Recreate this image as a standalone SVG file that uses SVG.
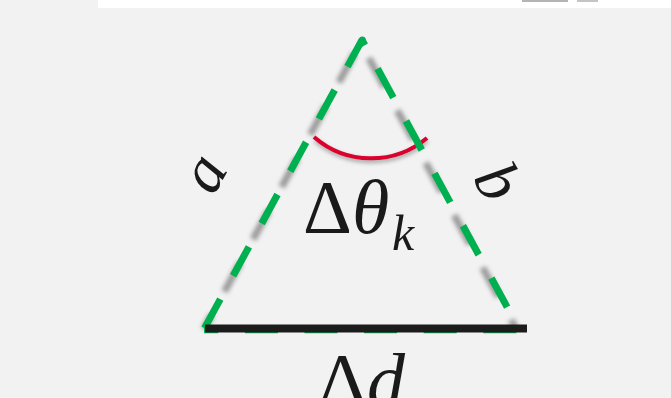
<svg xmlns="http://www.w3.org/2000/svg" width="671" height="398" viewBox="0 0 671 398">
<defs>
<filter id="soft" x="-30%" y="-30%" width="160%" height="160%"><feGaussianBlur stdDeviation="2.2"/></filter>
</defs>
<style>
.grn{fill:none;stroke:#00b050;stroke-width:7;stroke-dasharray:33 26.6}
.shd{fill:none;stroke:#8c8c8c;stroke-width:7;stroke-dasharray:33 26.6;filter:url(#soft);opacity:0.85}
.lbl{font-family:"Liberation Serif","DejaVu Serif",serif;fill:#1a1a1a}
.it{font-style:italic}
</style>
<rect width="671" height="398" fill="#f2f2f2"/>
<rect x="98" y="0" width="573" height="8" fill="#ffffff"/>
<rect x="522" y="0" width="46" height="2" fill="#b4b4b4"/>
<rect x="577" y="0" width="21" height="2" fill="#c4c4c4"/>
<g id="connectors">
  <g id="shadows">
    <path class="shd" d="M362,40 L204,329" style="stroke-dashoffset:-15.3"/>
    <path class="shd" d="M359,40 L516,329" style="stroke-dashoffset:39"/>
    <path class="shd" d="M203,334.5 H520" style="stroke-dashoffset:18.7"/>
    <path d="M315,140 A87,87 0 0 0 427,141" fill="none" stroke="#8c8c8c" stroke-width="4" filter="url(#soft)" opacity="0.8"/>
  </g>
  <path id="angle-arc" d="M314,137 A87,87 0 0 0 427,138" fill="none" stroke="#dc002c" stroke-width="4"/>
  <path id="side-a" class="grn" d="M362,40 L204,329" style="stroke-dashoffset:2.66"/>
  <circle cx="362.3" cy="40" r="3.5" fill="#00b050"/>
  <path id="side-b" class="grn" d="M362,40 L519,329" style="stroke-dashoffset:27"/>
  <path id="base-dash" class="grn" d="M204,329.8 H519" style="stroke-dashoffset:18.7"/>
  <path id="base-d" d="M205,328.5 H527" fill="none" stroke="#1c1c1c" stroke-width="8"/>
</g>
<g id="label-a"><text class="lbl it" font-size="64" text-anchor="middle" transform="translate(209,176) rotate(-61)" y="14">a</text></g>
<g id="label-b"><text class="lbl it" font-size="64" text-anchor="middle" transform="translate(499,181) rotate(60)" y="22">b</text></g>
<g id="label-theta"><text class="lbl" x="303" y="233" font-size="76">Δ<tspan class="it">θ</tspan></text><text class="lbl it" x="392" y="250" font-size="50">k</text></g>
<g id="label-d"><text class="lbl" x="318" y="406" font-size="76">Δ<tspan class="it">d</tspan></text></g>
</svg>
